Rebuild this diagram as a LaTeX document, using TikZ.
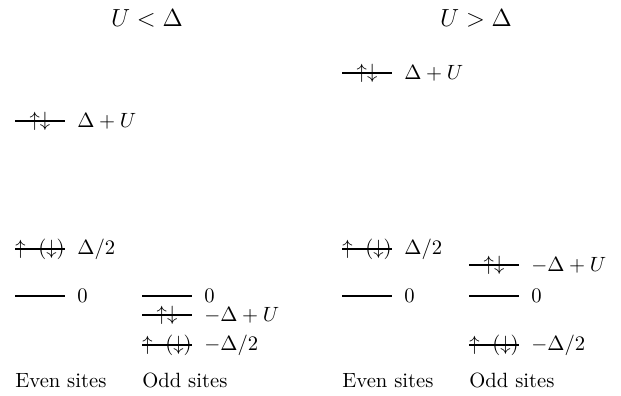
\documentclass[tikz,border=0pt]{standalone}
\begin{document}
\begin{tikzpicture}[x=0.485pt,y=-0.485pt,
  lvl/.style={line width=1.1pt},
  lab/.style={anchor=west,inner sep=0pt},
  spin/.style={inner sep=0pt},
  site/.style={anchor=base west,inner sep=0pt},
  ttl/.style={font=\large,inner sep=0pt}]
\useasboundingbox (0,0) rectangle (621,395);
% titles
\node[ttl] (t1) at (147,18) {$U<\Delta$};
\node[ttl] (t2) at (476,18) {$U>\Delta$};
% ---------- left panel: U < Delta ----------
% even sites
\draw[lvl] (15,121) coordinate (a1) -- (65,121) coordinate (a2);
\node[spin] (a3) at (40,121) {$\uparrow\downarrow$};
\node[lab] (a4) at (77,121) {$\Delta+U$};
\draw[lvl] (15,249) coordinate (b1) -- (65,249) coordinate (b2);
\node[spin] (b3) at (40,249) {$\uparrow\ (\downarrow)$};
\node[lab] (b4) at (77,249) {$\Delta/2$};
\draw[lvl] (15,296) coordinate (c1) -- (65,296) coordinate (c2);
\node[lab] (c4) at (77,296) {$0$};
% odd sites
\draw[lvl] (142,296) coordinate (d1) -- (192,296) coordinate (d2);
\node[lab] (d4) at (204,296) {$0$};
\draw[lvl] (142,315) coordinate (e1) -- (192,315) coordinate (e2);
\node[spin] (e3) at (167,315) {$\uparrow\downarrow$};
\node[lab] (e4) at (204,315) {$-\Delta+U$};
\draw[lvl] (142,345) coordinate (f1) -- (192,345) coordinate (f2);
\node[spin] (f3) at (167,345) {$\uparrow\ (\downarrow)$};
\node[lab] (f4) at (204,345) {$-\Delta/2$};
\node[site] (s1) at (15,387) {Even sites};
\node[site] (s2) at (142,387) {Odd sites};
% ---------- right panel: U > Delta ----------
% even sites
\draw[lvl] (342,73) coordinate (g1) -- (392,73) coordinate (g2);
\node[spin] (g3) at (367,73) {$\uparrow\downarrow$};
\node[lab] (g4) at (404,73) {$\Delta+U$};
\draw[lvl] (342,249) coordinate (h1) -- (392,249) coordinate (h2);
\node[spin] (h3) at (367,249) {$\uparrow\ (\downarrow)$};
\node[lab] (h4) at (404,249) {$\Delta/2$};
\draw[lvl] (342,296) coordinate (i1) -- (392,296) coordinate (i2);
\node[lab] (i4) at (404,296) {$0$};
% odd sites
\draw[lvl] (469,265) coordinate (j1) -- (519,265) coordinate (j2);
\node[spin] (j3) at (494,265) {$\uparrow\downarrow$};
\node[lab] (j4) at (531,265) {$-\Delta+U$};
\draw[lvl] (469,296) coordinate (k1) -- (519,296) coordinate (k2);
\node[lab] (k4) at (531,296) {$0$};
\draw[lvl] (469,345) coordinate (l1) -- (519,345) coordinate (l2);
\node[spin] (l3) at (494,345) {$\uparrow\ (\downarrow)$};
\node[lab] (l4) at (531,345) {$-\Delta/2$};
\node[site] (s3) at (342,387) {Even sites};
\node[site] (s4) at (469,387) {Odd sites};
\end{tikzpicture}
\end{document}
